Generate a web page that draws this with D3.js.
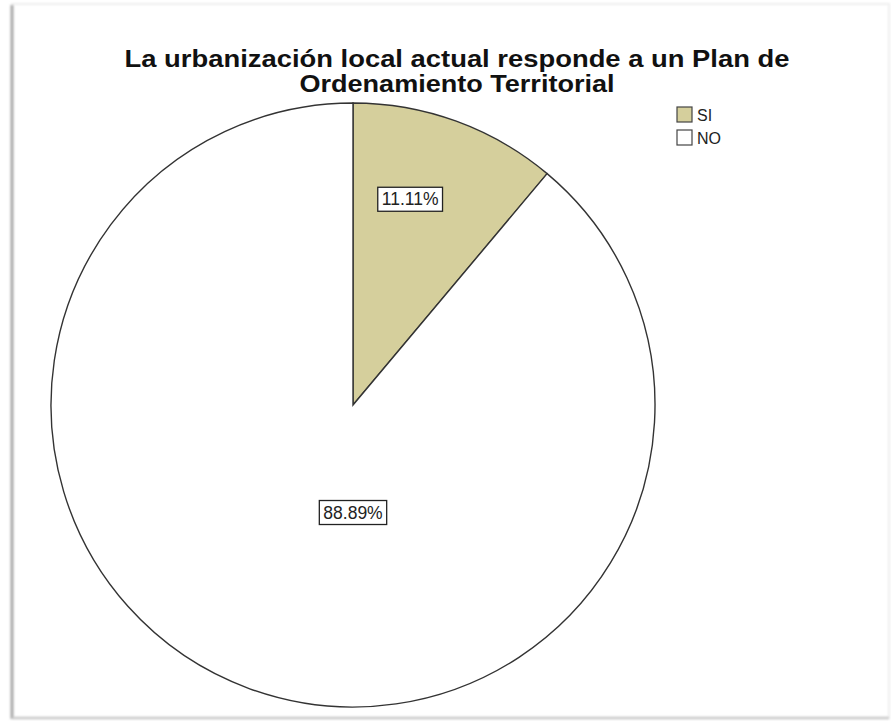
<!DOCTYPE html>
<html>
<head>
<meta charset="utf-8">
<script src="https://cdn.jsdelivr.net/npm/d3@7"></script>
<style>
  html, body { margin: 0; padding: 0; background: #ffffff; }
  svg { display: block; }
  text { font-family: "Liberation Sans", Arial, sans-serif; }
</style>
</head>
<body>
<svg id="chart" width="891" height="721"></svg>
<script>
// Data
const categories = ["SI", "NO"];
const percentages = [11.11, 88.89];
const percentLabels = ["11.11%", "88.89%"];
const titleLines = ["La urbanización local actual responde a un Plan de", "Ordenamiento Territorial"];
const sliceColors = ["#d5cf9c", "#ffffff"];

const svg = d3.select("#chart");

// Outer frame with soft shadow
const defs = svg.append("defs");
const blur = defs.append("filter").attr("id", "soft")
  .attr("filterUnits", "userSpaceOnUse")
  .attr("x", 0).attr("y", 0).attr("width", 891).attr("height", 721);
blur.append("feGaussianBlur").attr("stdDeviation", 1.1);

const frame = svg.append("g").attr("filter", "url(#soft)");
frame.append("rect").attr("x", 12).attr("y", 4).attr("width", 877).attr("height", 714)
  .attr("fill", "none").attr("stroke", "#efefef").attr("stroke-width", 2);
frame.append("line").attr("x1", 12).attr("x2", 12).attr("y1", 5).attr("y2", 719)
  .attr("stroke", "#a8a8a8").attr("stroke-width", 3);
frame.append("line").attr("x1", 12).attr("x2", 889).attr("y1", 718).attr("y2", 718)
  .attr("stroke", "#c8c8c8").attr("stroke-width", 2.5);

// Title
const titleWidths = [665, 315];
titleLines.forEach((t, i) => {
  svg.append("text")
    .attr("x", 457).attr("y", 66.5 + i * 25.5)
    .attr("text-anchor", "middle")
    .attr("font-size", 24)
    .attr("font-weight", "bold")
    .attr("fill", "#111")
    .attr("textLength", titleWidths[i])
    .attr("lengthAdjust", "spacingAndGlyphs")
    .text(t);
});

// Pie
const cx = 353, cy = 405, R = 302;
const color = d3.scaleOrdinal().domain(categories).range(sliceColors);
const pie = d3.pie().sort(null).value(d => d.value);
const data = categories.map((c, i) => ({ cat: c, value: percentages[i], label: percentLabels[i] }));
const arcs = pie(data);
const arc = d3.arc().innerRadius(0).outerRadius(R);

const g = svg.append("g").attr("transform", `translate(${cx},${cy})`);
g.selectAll("path.slice")
  .data(arcs)
  .join("path")
  .attr("class", "slice")
  .attr("d", arc)
  .attr("fill", d => color(d.data.cat))
  .attr("stroke", "#333")
  .attr("stroke-width", 1.4);

// Value labels in boxed callouts (placed by angle and radius fraction)
const labelPlacement = [
  { angle: 15.5 * Math.PI / 180, r: 0.708 },
  { angle: Math.PI, r: 0.355 }
];
const lab = g.selectAll("g.lab")
  .data(arcs)
  .join("g")
  .attr("class", "lab")
  .attr("transform", (d, i) => {
    const p = labelPlacement[i];
    const x = Math.sin(p.angle) * p.r * R;
    const y = -Math.cos(p.angle) * p.r * R;
    return `translate(${x},${y})`;
  });
lab.append("text")
  .attr("text-anchor", "middle")
  .attr("dy", "0.36em")
  .attr("font-size", 17.5)
  .attr("fill", "#222")
  .text(d => d.data.label);
lab.each(function () {
  const t = d3.select(this).select("text").node().getBBox();
  d3.select(this).insert("rect", "text")
    .attr("x", t.x - 4).attr("y", t.y - 2)
    .attr("width", t.width + 8).attr("height", t.height + 4)
    .attr("fill", "#fff").attr("stroke", "#222").attr("stroke-width", 1.3);
});

// Legend
const legend = svg.append("g").attr("transform", "translate(677,107)");
const items = legend.selectAll("g").data(categories).join("g")
  .attr("transform", (d, i) => `translate(0,${i * 23})`);
items.append("rect")
  .attr("width", 15).attr("height", 15)
  .attr("fill", d => color(d))
  .attr("stroke", "#444").attr("stroke-width", 1.2);
items.append("text")
  .attr("x", 20).attr("y", 14)
  .attr("font-size", 16)
  .attr("fill", "#222")
  .text(d => d);
</script>
</body>
</html>
